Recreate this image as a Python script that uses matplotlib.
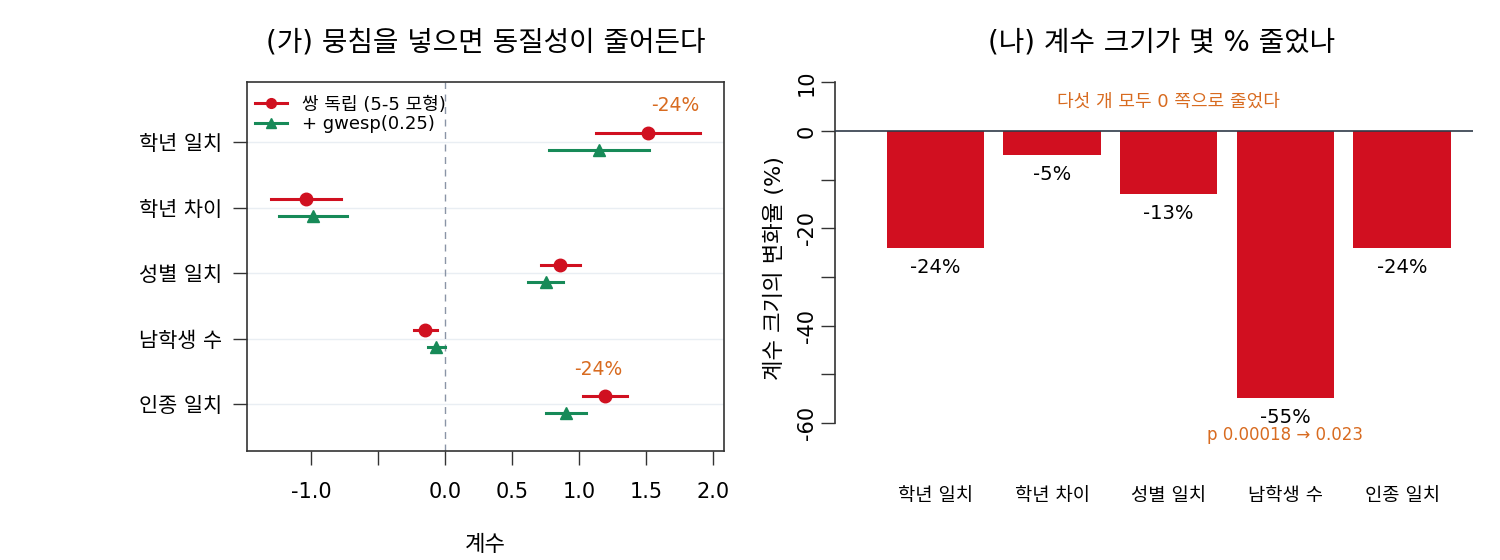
import matplotlib
matplotlib.use("Agg")
import matplotlib.pyplot as plt
from matplotlib.lines import Line2D

# 숫자/영문은 DejaVu, 한글은 Noto CJK로 넘어감
plt.rcParams['font.family'] = ['DejaVu Sans', 'Noto Sans CJK KR']
plt.rcParams['axes.unicode_minus'] = False

# 데이터
terms = ['학년 일치', '학년 차이', '성별 일치', '남학생 수', '인종 일치']
est_base = [1.512, -1.041, 0.861, -0.148, 1.192]
lo_base = [1.127, -1.299, 0.713, -0.228, 1.030]
hi_base = [1.905, -0.778, 1.009, -0.059, 1.361]
est_gw = [1.151, -0.988, 0.751, -0.065, 0.905]
lo_gw = [0.778, -1.240, 0.621, -0.127, 0.757]
hi_gw = [1.524, -0.731, 0.882, 0.000, 1.053]
pct_change = [-24, -5, -13, -55, -24]
x_ticks = [-1.0, -0.5, 0.0, 0.5, 1.0, 1.5, 2.0]
x_ticklabels = ['-1.0', '', '0.0', '0.5', '1.0', '1.5', '2.0']
y_ticks = [10, 0, -10, -20, -30, -40, -50, -60]
y_ticklabels = ['10', '0', '', '-20', '', '-40', '', '-60']
note_terms = [0, 4]           # 왼쪽 패널에 -24% 표시
note_pos = [(1.72, 5.55), (1.145, 1.53)]

RED = '#D01020'
GREEN = '#178A58'
ORANGE = '#D86B20'
W, H = 1500, 560

fig = plt.figure(figsize=(15, 5.6), dpi=100)

# (가) 계수 플롯
ax1 = fig.add_axes([247 / W, (H - 451) / H, (724 - 247) / W, (451 - 82) / H])
ypos = [len(terms) - i for i in range(len(terms))]
off = 0.13
for y in ypos:
    ax1.axhline(y, color='#E9EEF3', lw=1, zorder=0)
ax1.axvline(0, color='#8A94A6', lw=1, ls=(0, (5, 4)), zorder=1)
for i, y in enumerate(ypos):
    ax1.plot([lo_base[i], hi_base[i]], [y + off] * 2, color=RED, lw=2.2, zorder=2)
    ax1.plot([lo_gw[i], hi_gw[i]], [y - off] * 2, color=GREEN, lw=2.2, zorder=2)
ax1.plot(est_base, [y + off for y in ypos], 'o', color=RED, ms=9, zorder=3)
ax1.plot(est_gw, [y - off for y in ypos], '^', color=GREEN, ms=9, zorder=3)
for k, i in enumerate(note_terms):
    ax1.text(note_pos[k][0], note_pos[k][1], f'{pct_change[i]}%', color=ORANGE,
             fontsize=13.5, ha='center', va='center')

ax1.set_xlim(-1.478, 2.082)
ax1.set_ylim(0.285, 5.915)
ax1.set_xticks(x_ticks)
ax1.set_xticklabels(x_ticklabels, fontsize=15)
ax1.set_yticks(ypos)
ax1.set_yticklabels(terms, fontsize=15)
ax1.tick_params(direction='out', length=10, width=1, color='#333333', pad=12)
ax1.tick_params(axis='y', pad=8)
for s in ax1.spines.values():
    s.set_color('#333333')
    s.set_linewidth(1.2)
ax1.set_xlabel('계수', fontsize=16, labelpad=24)

handles = [Line2D([], [], color=RED, lw=2.2, marker='o', ms=7),
           Line2D([], [], color=GREEN, lw=2.2, marker='^', ms=7)]
ax1.legend(handles, ['쌍 독립 (5-5 모형)', '+ gwesp(0.25)'], loc='upper left',
           frameon=False, fontsize=13, handlelength=1.8, borderaxespad=0.45,
           labelspacing=0.1, handletextpad=0.8, borderpad=0.3,
           bbox_to_anchor=(-0.012, 1.0))

fig.text(486 / W, 1 - 42 / H, '(가) 뭉침을 넣으면 동질성이 줄어든다',
         fontsize=20, ha='center', va='center')

# (나) 변화율 막대
ax2 = fig.add_axes([835 / W, (H - 450) / H, (1473 - 835) / W, 380 / H])
xc = [0.7 + 1.2 * i for i in range(len(terms))]
ax2.bar(xc, pct_change, width=1.0, color='#D10F20', zorder=2)
ax2.axhline(0, color='#2F3A48', lw=1.2, zorder=3)
for x, v in zip(xc, pct_change):
    ax2.annotate(f'{v}%', (x, v), xytext=(0, -14), textcoords='offset points',
                 ha='center', va='center', fontsize=14)
ax2.text(xc[2], 6, '다섯 개 모두 0 쪽으로 줄었다', color=ORANGE, fontsize=13,
         ha='center', va='center')
ax2.annotate('p 0.00018 → 0.023', (xc[3], pct_change[3]), xytext=(0, -26),
             textcoords='offset points', color=ORANGE, fontsize=12,
             ha='center', va='center')

ax2.set_xlim(-0.333, 6.23)
ax2.set_ylim(-65.6, 12.55)
for name in ['top', 'right', 'bottom']:
    ax2.spines[name].set_visible(False)
ax2.spines['left'].set_bounds(-60, 10)
ax2.spines['left'].set_color('#333333')
ax2.spines['left'].set_linewidth(1.2)
ax2.set_yticks(y_ticks)
ax2.set_yticklabels(y_ticklabels, fontsize=15, rotation=90, va='center')
ax2.tick_params(axis='y', direction='out', length=10, width=1, color='#333333', pad=3)
ax2.set_xticks(xc)
ax2.set_xticklabels(terms, fontsize=13.5)
ax2.tick_params(axis='x', length=0, pad=26)

fig.text(774 / W, 1 - 268 / H, '계수 크기의 변화율 (%)', fontsize=16,
         rotation=90, ha='center', va='center')
fig.text(1162 / W, 1 - 42 / H, '(나) 계수 크기가 몇 % 줄었나',
         fontsize=20, ha='center', va='center')

fig.savefig('out.png', dpi=100)
